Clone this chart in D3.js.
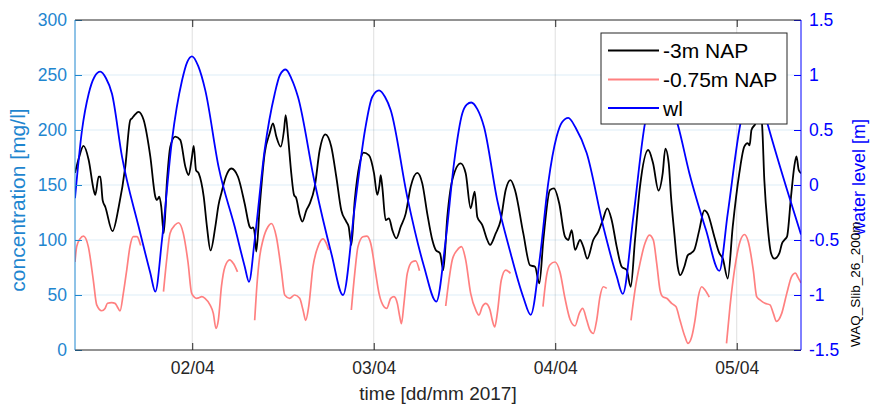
<!DOCTYPE html>
<html>
<head>
<meta charset="utf-8">
<script src="https://cdn.jsdelivr.net/npm/d3@7"></script>
<style>
  html, body { margin: 0; padding: 0; background: #fff; }
  svg { display: block; font-family: "Liberation Sans", Arial, Helvetica, sans-serif; }
</style>
</head>
<body>
<svg id="chart" width="870" height="405"></svg>
<script>
// ---------------- DATA (time in hours since 01/04/2017 08:30) ----------------
const startTime = new Date(2017, 3, 1, 8, 30);
const endTime = new Date(2017, 3, 5, 8, 30);
const xTickDates = [new Date(2017, 3, 2), new Date(2017, 3, 3), new Date(2017, 3, 4), new Date(2017, 3, 5)];
const leftTicks = [0, 50, 100, 150, 200, 250, 300];
const rightTicks = [-1.5, -1, -0.5, 0, 0.5, 1, 1.5];
const seriesNames = ["-3m NAP", "-0.75m NAP", "wl"];

// -3m NAP concentration [mg/l]
const blackHours = [0.0,0.53,1.12,1.81,2.47,2.68,3.13,3.35,3.66,4.01,4.96,5.78,6.65,7.31,7.54,7.93,8.40,9.08,9.96,10.62,10.84,11.15,11.41,11.73,12.17,12.60,13.26,13.92,14.59,15.03,15.47,15.70,16.00,16.36,17.02,17.45,17.92,18.55,18.98,19.37,19.97,20.67,21.55,22.44,23.10,23.31,23.54,23.76,23.97,24.42,25.08,25.74,26.18,26.62,27.20,27.64,27.86,28.17,28.60,28.96,29.26,29.71,30.06,30.59,31.04,31.70,32.36,33.10,33.89,34.55,35.21,35.87,36.19,36.54,36.99,37.65,38.15,38.88,39.54,39.97,40.26,40.42,40.63,41.08,41.52,41.96,42.49,43.07,43.73,44.39,45.26,45.92,46.58,47.25,47.70,48.26,48.70,49.23,49.89,51.00,51.66,52.32,52.85,53.20,53.86,54.52,54.88,55.63,56.29,56.95,57.59,58.18,59.28,60.17,60.83,61.40,61.93,62.81,63.34,64.04,64.79,65.23,65.68,66.12,66.78,67.21,67.74,68.53,69.20,69.78,70.39,70.97,71.63,72.29,72.95,73.48,74.05,74.71,75.80,76.43,77.16,77.71,78.06,78.51,78.81,79.25,79.70,80.04,80.57,81.02,81.45,81.89,82.55,83.21,83.66,84.54,85.20,85.65,86.31,86.97,87.84,88.50,88.95,89.20,89.45,89.92,90.58,90.84,91.15,91.60,92.04,92.48,93.14,93.49,93.80,94.15,94.68,95.11,95.40,95.70,96.0];
const blackConc = [161,175,185.5,172.7,145.5,141,157.5,157.5,136,130,108,130,166.7,209,210.6,214,216.5,209,175.7,139.4,136.4,139.4,130,106,154.5,184.8,194,191,166.7,159,175.7,185.5,163.6,160.6,139.4,112,90.5,112,132,143,158,165,157.5,133,112,110.6,111.5,106,89.4,130,178.8,197,206,194,184.8,200,213.6,194,160.6,141,138,122.7,116.7,127,133,148.5,181.8,196,184.8,157.5,127,116.7,112,95.5,136,169.7,179.5,177,160.6,141,150,159,148.5,118,119.7,109,101.5,112,124,148.5,161,151.5,124,100,91,88,72.7,121,154.5,169.7,160.6,128.8,144,121,113.6,100,95.5,106,118,145.5,154.5,145.5,106,77,75.7,60.6,100,145.5,147,133,103,100,109,91,100,94,83,100,107.6,118,128.8,118,94,75.7,72.7,57.5,100,148.5,181.8,170,145,160.6,183,169.7,139.4,106,75.7,68,75.7,86,88,91,109,127,124,103,88,83.3,65,112,160.6,184.8,188,186,200,205,215,206,154.5,112,88,83,88,97,100,103,139.4,166.7,176,163.6,160.6];

// -0.75m NAP concentration [mg/l] (null = gap in record)
const pinkHours = [0.0,0.22,0.66,1.12,1.76,2.42,2.87,3.53,3.97,4.30,4.85,5.29,5.59,5.95,6.39,6.84,7.27,7.71,8.24,8.50,8.69, 10.2,
  11.70,12.17,12.56,13.22,13.69,14.32,14.94,15.43,16.09,16.40,16.75,17.19,17.85,18.29,18.64,18.95,19.37,19.83,20.46,20.93,21.49, 22.6,
  23.76,24.07,24.42,24.86,25.52,25.96,26.62,27.28,27.73,28.39,29.05,29.71,30.15,30.51,30.90,31.47,32.13,32.79,33.23,33.55, 35.0,
  36.54,36.99,37.42,38.08,38.61,39.10,39.76,40.20,40.86,41.22,41.75,42.18,42.62,42.94,43.17,43.50,43.94,44.60,45.05,45.55, 47.3,
  49.02,49.45,49.89,50.55,51.11,51.66,52.32,52.99,53.42,53.86,54.31,54.88,55.18,55.50,55.84,56.37,56.95,57.59, 59.7,
  61.88,62.37,62.81,63.47,64.13,64.79,65.45,66.12,66.68,67.13,67.66,68.10,68.54,68.98,69.42,69.86,70.31, 71.9,
  73.52,74.05,74.71,75.37,75.94,76.47,76.92,77.36,77.71,78.24,78.90,79.47,80.00,80.66,81.06,81.55,81.98,82.42,82.87,83.31,83.87, 85.0,
  86.15,86.61,87.27,87.93,88.53,89.03,89.69,90.14,90.58,91.24,91.90,92.34,92.76,93.45,94.12,94.77,95.27,95.60,96.0];
const pinkConc = [80,94,101,103.5,94,63.6,41,35.7,37.8,42.5,43,42.4,39.4,35.5,51.5,72.7,94,103,103,99,95, null,
  53,85,106,113.6,115.7,106,80,51.5,47,47.5,48.5,47,41,33.3,19.7,27,58,75.7,82,78.8,71, null,
  27,60,84.8,100,112,115,103,72.7,50,47,50,47,36.4,27,39.4,75.7,94,101,97,91, null,
  36.4,69.7,94,103,103.6,97,69.7,51.5,39.4,37.8,47,48.5,42.4,30.3,24,42.4,69.7,80.3,81,72, null,
  40,63.6,82,91,94,82,51.5,36.4,31.8,39.4,42.4,36.4,27,21,33.3,63.6,72.7,69.7, null,
  39.4,68,77.5,80,71,47,28,22,33.3,37.8,27.3,18,15,27,48.5,57.5,56, null,
  27,54.5,78.8,97,104.5,100,78.8,54.5,48.5,47,42.4,39.4,27,12,6,12,27,48.5,57.5,54.5,48, null,
  6,39.4,75.7,98.5,105,98.5,72.7,48.5,45.5,42.4,41,33.3,26,33.3,51.5,67,70,66,61];

// water level [m]
const wlHours = [0.0,0.93,1.81,2.55,3.35,4.10,4.89,6.21,8.42,9.96,10.62,11.50,12.83,14.15,14.85,15.47,16.30,17.23,19.00,21.12,22.44,23.01,23.76,25.08,26.41,27.10,27.86,28.60,29.49,31.70,33.89,35.44,36.99,38.35,39.30,40.20,41.00,41.75,43.94,46.15,47.78,49.02,50.12,51.21,51.80,52.40,53.20,54.08,55.84,57.52,59.28,60.26,61.49,62.58,63.69,64.40,65.23,66.20,67.66,69.86,71.63,72.43,73.83,75.37,76.30,77.36,78.40,79.70,81.23,83.44,85.20,86.31,87.97,88.80,89.65,90.60,91.60,94.45,96.0];
const wlLevel = [-0.12,0.50,0.83,0.98,1.03,0.97,0.83,0.26,-0.38,-0.80,-0.97,-0.50,0.41,0.95,1.12,1.17,1.08,0.86,0.16,-0.38,-0.74,-0.88,-0.50,0.32,0.83,1.00,1.05,0.97,0.80,0.02,-0.62,-1.00,-0.20,0.50,0.80,0.86,0.80,0.68,-0.11,-0.74,-1.06,-0.50,0.20,0.65,0.73,0.75,0.69,0.53,-0.14,-0.60,-1.02,-1.18,-0.65,0.02,0.44,0.57,0.61,0.52,0.29,-0.38,-0.83,-0.99,-0.29,0.56,0.80,0.90,0.80,0.55,0.11,-0.41,-0.78,-0.26,0.55,0.78,0.88,0.80,0.55,-0.11,-0.45];

// ---------------- CHART ----------------
const svg = d3.select("#chart");
const L = 75, R = 801, T = 20, B = 350;
const leftColor = "#1f86cf";
const rightColor = "#0000ff";
const axisGrey = "#262626";
const font = '"Liberation Sans", Arial, Helvetica, sans-serif';

const toDate = h => new Date(startTime.getTime() + h * 3600e3);
const x = d3.scaleTime().domain([startTime, endTime]).range([L, R]);
const yL = d3.scaleLinear().domain([0, 300]).range([B, T]);
const yR = d3.scaleLinear().domain([-1.5, 1.5]).range([B, T]);

// grid
const grid = svg.append("g");
grid.selectAll("line.h").data(leftTicks.slice(1, -1)).join("line")
  .attr("x1", L).attr("x2", R).attr("y1", d => yL(d)).attr("y2", d => yL(d))
  .attr("stroke", leftColor).attr("stroke-opacity", 0.15).attr("stroke-width", 1);
grid.selectAll("line.v").data(xTickDates).join("line")
  .attr("x1", d => x(d)).attr("x2", d => x(d)).attr("y1", T).attr("y2", B)
  .attr("stroke", axisGrey).attr("stroke-opacity", 0.15).attr("stroke-width", 1);

// clip
svg.append("clipPath").attr("id", "clip").append("rect")
  .attr("x", L).attr("y", T).attr("width", R - L).attr("height", B - T);
const plot = svg.append("g").attr("clip-path", "url(#clip)");

const blackData = blackHours.map((h, i) => [toDate(h), blackConc[i]]);
const pinkData = pinkHours.map((h, i) => [toDate(h), pinkConc[i]]);
const wlData = wlHours.map((h, i) => [toDate(h), wlLevel[i]]);

const lineL = d3.line().defined(d => d[1] !== null)
  .x(d => x(d[0])).y(d => yL(d[1])).curve(d3.curveMonotoneX);
const lineR = d3.line().x(d => x(d[0])).y(d => yR(d[1])).curve(d3.curveMonotoneX);

plot.append("path").datum(blackData).attr("d", lineL)
  .attr("fill", "none").attr("stroke", "#000").attr("stroke-width", 1.8).attr("stroke-linejoin", "round");
plot.append("path").datum(pinkData).attr("d", lineL)
  .attr("fill", "none").attr("stroke", "#ff8080").attr("stroke-width", 1.7).attr("stroke-linejoin", "round");
plot.append("path").datum(wlData).attr("d", lineR)
  .attr("fill", "none").attr("stroke", "#0000ff").attr("stroke-width", 1.8).attr("stroke-linejoin", "round");

// axes
function styleAxis(g, color, fs) {
  g.select(".domain").remove();
  g.selectAll(".tick line").attr("stroke", color);
  g.selectAll(".tick text").attr("fill", color).style("font-size", fs + "px").style("font-family", font);
}
const fmtDate = d3.timeFormat("%d/%m");
const gB = svg.append("g").attr("transform", `translate(0,${B})`)
  .call(d3.axisBottom(x).tickValues(xTickDates).tickFormat(fmtDate).tickSize(-7).tickPadding(12));
styleAxis(gB, axisGrey, 17.5);
const gT = svg.append("g").attr("transform", `translate(0,${T})`)
  .call(d3.axisTop(x).tickValues(xTickDates).tickFormat("").tickSize(-7));
styleAxis(gT, axisGrey, 17.5);
const gL = svg.append("g").attr("transform", `translate(${L},0)`)
  .call(d3.axisLeft(yL).tickValues(leftTicks).tickFormat(d => String(d)).tickSize(-7).tickPadding(8));
styleAxis(gL, leftColor, 17.5);
const gR = svg.append("g").attr("transform", `translate(${R},0)`)
  .call(d3.axisRight(yR).tickValues(rightTicks).tickFormat(d => String(d)).tickSize(-7).tickPadding(8));
styleAxis(gR, rightColor, 17.5);

// axis lines
svg.append("line").attr("x1", L).attr("x2", R).attr("y1", T).attr("y2", T).attr("stroke", axisGrey);
svg.append("line").attr("x1", L).attr("x2", R).attr("y1", B).attr("y2", B).attr("stroke", axisGrey);
svg.append("line").attr("x1", L).attr("x2", L).attr("y1", T).attr("y2", B).attr("stroke", leftColor);
svg.append("line").attr("x1", R).attr("x2", R).attr("y1", T).attr("y2", B).attr("stroke", rightColor);

// axis titles
svg.append("text").attr("x", (L + R) / 2).attr("y", 400).attr("text-anchor", "middle")
  .attr("fill", axisGrey).style("font-size", "19px").text("time [dd/mm 2017]");
svg.append("text").attr("transform", "translate(25,200) rotate(-90)").attr("text-anchor", "middle")
  .attr("fill", leftColor).style("font-size", "21px").text("concentration [mg/l]");
svg.append("text").attr("transform", "translate(865,177) rotate(-90)").attr("text-anchor", "middle")
  .attr("fill", rightColor).style("font-size", "18px").text("water level [m]");
svg.append("text").attr("transform", "translate(860,347) rotate(-90)").attr("text-anchor", "start")
  .attr("fill", "#000").style("font-size", "13.5px").text("WAQ_Slib_26_200m");

// legend
const lg = svg.append("g");
lg.append("rect").attr("x", 601).attr("y", 33).attr("width", 186).attr("height", 91)
  .attr("fill", "#fff").attr("stroke", axisGrey).attr("stroke-width", 1);
const legColors = ["#000", "#ff8080", "#0000ff"];
const rowY = [50.5, 79.5, 108];
seriesNames.forEach((n, i) => {
  lg.append("line").attr("x1", 608).attr("x2", 659).attr("y1", rowY[i]).attr("y2", rowY[i])
    .attr("stroke", legColors[i]).attr("stroke-width", 1.8);
  lg.append("text").attr("x", 663).attr("y", rowY[i]).attr("dy", "0.36em")
    .attr("fill", "#000").style("font-size", "21px").text(n);
});
</script>
</body>
</html>
